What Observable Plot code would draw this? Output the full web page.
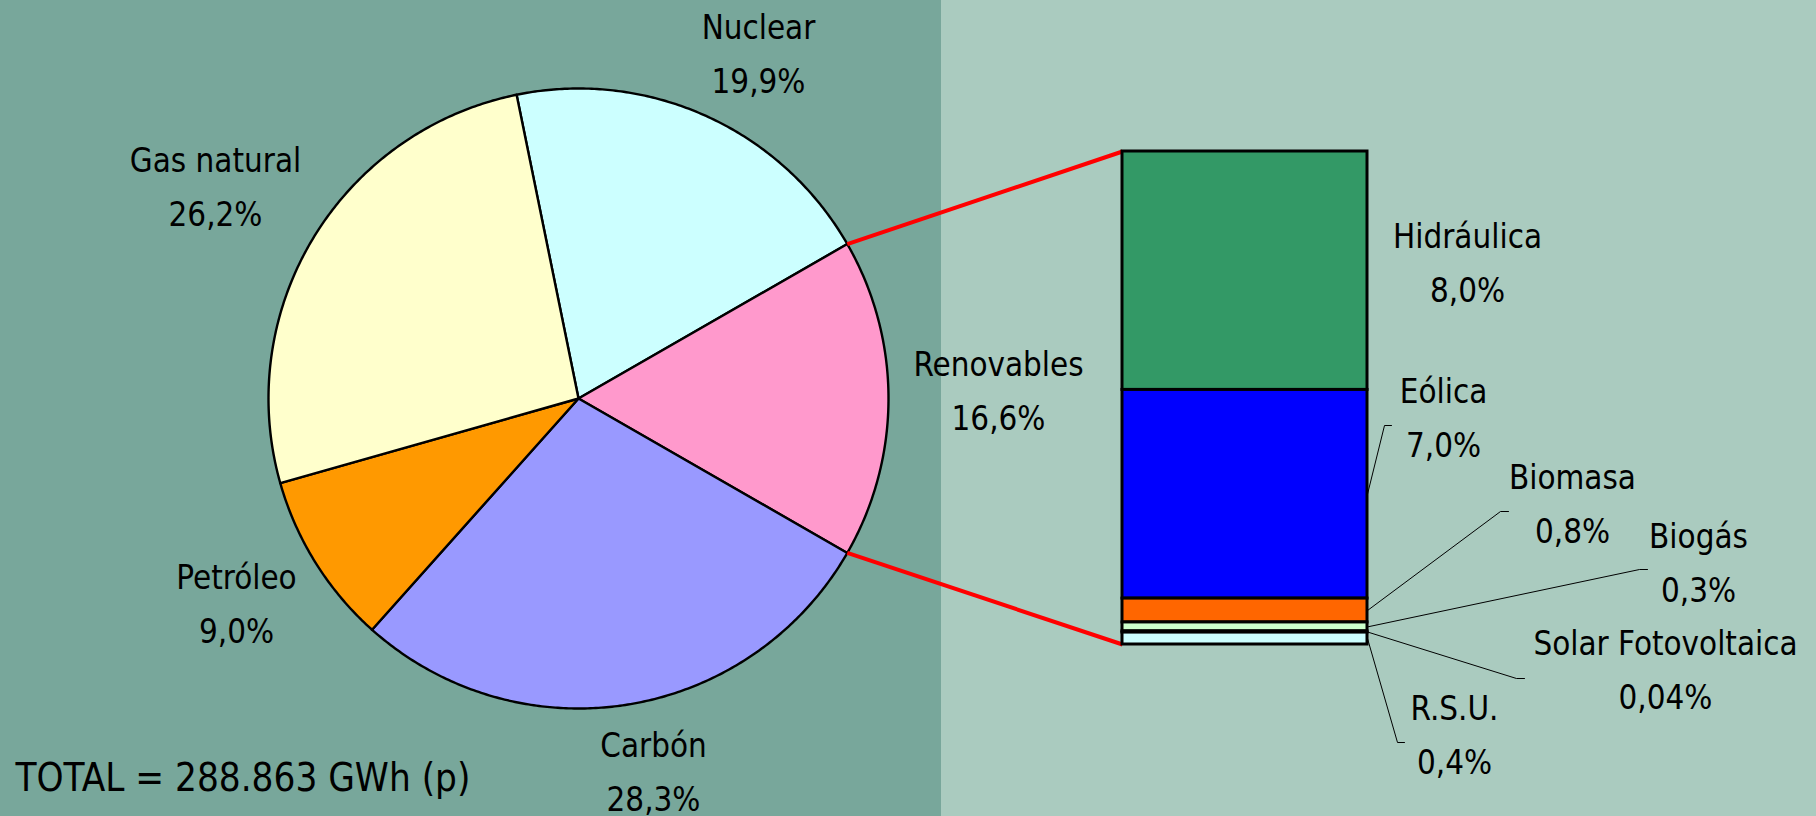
<!DOCTYPE html>
<html>
<head>
<meta charset="utf-8">
<script src="https://cdn.jsdelivr.net/npm/d3@7"></script>
<script src="https://cdn.jsdelivr.net/npm/@observablehq/plot@0.6"></script>
<style>
  html, body { margin: 0; padding: 0; background: #AACBBF; overflow: hidden; }
  #chart svg { display: block; }
</style>
</head>
<body>
<div id="chart"></div>
<script>
// ---------------- DATA ----------------
const pieNames   = ["Nuclear", "Renovables", "Carbón", "Petróleo", "Gas natural"];
const pieValues  = [19.9, 16.6, 28.3, 9.0, 26.2];
const pieLabels  = ["19,9%", "16,6%", "28,3%", "9,0%", "26,2%"];
const pieColors  = ["#CCFFFF", "#FF99CC", "#9999FF", "#FF9900", "#FFFFCC"];

const renNames   = ["Hidráulica", "Eólica", "Biomasa", "Biogás", "Solar Fotovoltaica", "R.S.U."];
const renValues  = [8.0, 7.0, 0.8, 0.3, 0.04, 0.4];
const renLabels  = ["8,0%", "7,0%", "0,8%", "0,3%", "0,04%", "0,4%"];
const renColors  = ["#339966", "#0000FF", "#FF6600", "#CCFFCC", "#FFFF99", "#CCFFFF"];

const totalText  = "TOTAL = 288.863 GWh (p)";

// ---------------- LAYOUT (pixels) ----------------
const W = 1816, H = 816;
const panelSplit = 941;
const pieCenterPx = [578, 398], pieRadiusPx = 310;
const barLeftPx = 1122, barRightPx = 1367, barTopPx = 151, barBottomPx = 644;
const pieLabelPos = [[758, 55], [998, 392], [653, 773], [236, 605], [215, 188]];
const renLabelPos = [[1467, 264], [1443, 419], [1572, 505], [1698, 564], [1665, 671], [1454, 736]];
// leader lines: [elbow, end] for each secondary label (null = no leader)
const renLeader = [null, [[1384, 425], [1391, 425]], [[1500, 511], [1508, 511]],
                   [[1639, 569], [1647, 569]], [[1516, 678], [1524, 678]], [[1397, 742], [1404, 742]]];
const totalPos = [15, 778];

const FONT = "'DejaVu Sans Condensed', 'DejaVu Sans', sans-serif";
function fitSize(texts, targetW) {
  const ctx = document.createElement("canvas").getContext("2d");
  ctx.font = `100px ${FONT}`;
  const w = d3.sum(texts, t => ctx.measureText(t).width);
  return 100 * targetW / w;
}
const labelSize = fitSize(["Gas natural", "Solar Fotovoltaica", "Renovables", "Hidráulica"], 755);
const totalSize = fitSize([totalText], 455);
const lineGapPx = 53.5;
// Plot's two-line "middle" anchor assumes lineHeight 1; correct for a larger line gap
const labelDy = -0.32 * (lineGapPx - labelSize);

// ---------------- SCALES (units = percentage points) ----------------
const k = (barBottomPx - barTopPx) / d3.sum(renValues);   // px per percentage point
const ux = px => px / k;
const uy = py => (py - barTopPx) / k;

// pie geometry
const cx = ux(pieCenterPx[0]), cy = uy(pieCenterPx[1]), R = pieRadiusPx / k;
const total = d3.sum(pieValues);
const renIdx = pieNames.indexOf("Renovables");
const startAngle = Math.PI / 2 - 2 * Math.PI * (d3.sum(pieValues.slice(0, renIdx)) + pieValues[renIdx] / 2) / total;
const arcs = d3.pie().sort(null).value(d => d).startAngle(startAngle).endAngle(startAngle + 2 * Math.PI)(pieValues);
const polar = (a, r) => ({x: cx + r * Math.sin(a), y: cy - r * Math.cos(a)});

const sliceMarks = arcs.map((a, i) => {
  const n = Math.max(2, Math.ceil((a.endAngle - a.startAngle) / (Math.PI / 360)));
  const pts = [{x: cx, y: cy}];
  for (let j = 0; j <= n; j++) pts.push(polar(a.startAngle + (a.endAngle - a.startAngle) * j / n, R));
  return Plot.line(pts, {x: "x", y: "y", fill: pieColors[i], stroke: "black", strokeWidth: 2.4, curve: "linear-closed"});
});

// bar
const renData = renNames.map((name, i) => ({name, value: renValues[i], color: renColors[i]}));
const cum = d3.cumsum(renValues);
const renTotal = cum[cum.length - 1];

// connector lines
const ra = arcs[renIdx];
const p0 = polar(ra.startAngle, R), p1 = polar(ra.endAngle, R);
const redLinks = [
  {x1: p0.x, y1: p0.y, x2: ux(barLeftPx), y2: 0},
  {x1: p1.x, y1: p1.y, x2: ux(barLeftPx), y2: renTotal}
];

// leaders
const leaderPts = [];
renNames.forEach((name, i) => {
  if (!renLeader[i]) return;
  leaderPts.push({name, x: ux(barRightPx), y: cum[i] - renValues[i] / 2});
  renLeader[i].forEach(([px, py]) => leaderPts.push({name, x: ux(px), y: uy(py)}));
});

const pieLabelData = pieNames.map((n, i) => ({text: n + "\n" + pieLabels[i], x: ux(pieLabelPos[i][0]), y: uy(pieLabelPos[i][1])}));
const renLabelData = renNames.map((n, i) => ({text: n + "\n" + renLabels[i], x: ux(renLabelPos[i][0]), y: uy(renLabelPos[i][1])}));

const textOpts = {x: "x", y: "y", text: "text", lineAnchor: "middle", lineHeight: lineGapPx / labelSize,
                  dy: labelDy, fontSize: labelSize, fontFamily: FONT, fill: "black"};

const chart = Plot.plot({
  width: W, height: H,
  margin: 0,
  style: {background: `linear-gradient(to right, #78A79B 0px, #78A79B ${panelSplit}px, #AACBBF ${panelSplit}px)`, overflow: "visible"},
  x: {domain: [0, ux(W)], range: [0, W], axis: null},
  y: {domain: [uy(0), uy(H)], range: [0, H], axis: null},
  color: {type: "identity"},
  marks: [
    ...sliceMarks,
    Plot.link(redLinks, {x1: "x1", y1: "y1", x2: "x2", y2: "y2", stroke: "#FF0000", strokeWidth: 4}),
    Plot.rectY(renData, Plot.stackY({x1: () => ux(barLeftPx), x2: () => ux(barRightPx), y: "value", fill: "color", stroke: "black", strokeWidth: 3, order: null})),
    Plot.line(leaderPts, {x: "x", y: "y", z: "name", stroke: "black", strokeWidth: 1}),
    Plot.text(pieLabelData, textOpts),
    Plot.text(renLabelData, textOpts),
    Plot.text([totalText], {x: () => ux(totalPos[0]), y: () => uy(totalPos[1]), text: d => d, textAnchor: "start", fontSize: totalSize, fontFamily: FONT, fill: "black"})
  ]
});
document.getElementById("chart").append(chart);
</script>
</body>
</html>
